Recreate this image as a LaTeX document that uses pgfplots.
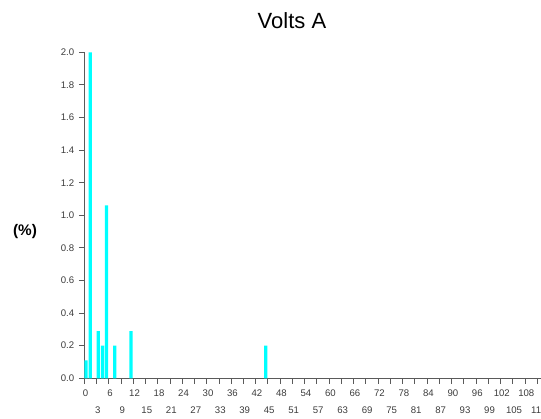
\documentclass[border=0pt]{standalone}
\usepackage{fontspec}
\setmainfont{Liberation Sans}
\usepackage{pgfplots}
\pgfplotsset{compat=1.18}

\definecolor{barcyan}{RGB}{0,255,255}
\definecolor{axisgray}{RGB}{90,90,90}
\definecolor{labelgray}{RGB}{60,60,60}

\begin{document}
\begin{tikzpicture}
% 1 px of the reference = 0.75pt
\begin{axis}[
  at={(63.2pt,29.8pt)}, anchor=south west,
  scale only axis,
  width=342.75pt, height=244.5pt,
  xmin=0, xmax=112,
  ymin=0, ymax=2.0,
  axis x line=bottom, axis y line=left,
  axis line style={axisgray, -},
  tick style={axisgray, line width=0.6pt},
  tick align=outside,
  major tick length=4pt,
  xtick={0,6,...,108},
  extra x ticks={3,9,...,111},
  extra x tick style={tick label style={yshift=-12.6pt}},
  ytick={0,0.2,...,2.0},
  yticklabel style={/pgf/number format/.cd, fixed, fixed zerofill, precision=1},
  /pgf/number format/assume math mode=true,
  tick label style={font=\fontsize{7.2}{8}\selectfont, text=labelgray},
  xticklabel style={yshift=-1pt, xshift=1pt},
  title={Volts A},
  title style={at={(rel axis cs:0.4545,1.071)}, anchor=center, font=\fontsize{16.5}{19}\selectfont},
  ylabel={(\%)},
  ylabel style={at={(rel axis cs:-0.1298,0.4497)}, anchor=center, rotate=-90, font=\fontsize{11.5}{14}\selectfont\bfseries},
  clip=false,
]
\addplot[ybar, bar width=0.8, bar shift=0.45, fill=barcyan, draw=none] coordinates {
  (0,0.11) (1,2.0) (3,0.29) (4,0.2) (5,1.06) (7,0.2) (11,0.29) (44,0.2)
};
\end{axis}
\pgfresetboundingbox
\useasboundingbox (0,0) rectangle (405.75pt,313.5pt);
\end{tikzpicture}
\end{document}
